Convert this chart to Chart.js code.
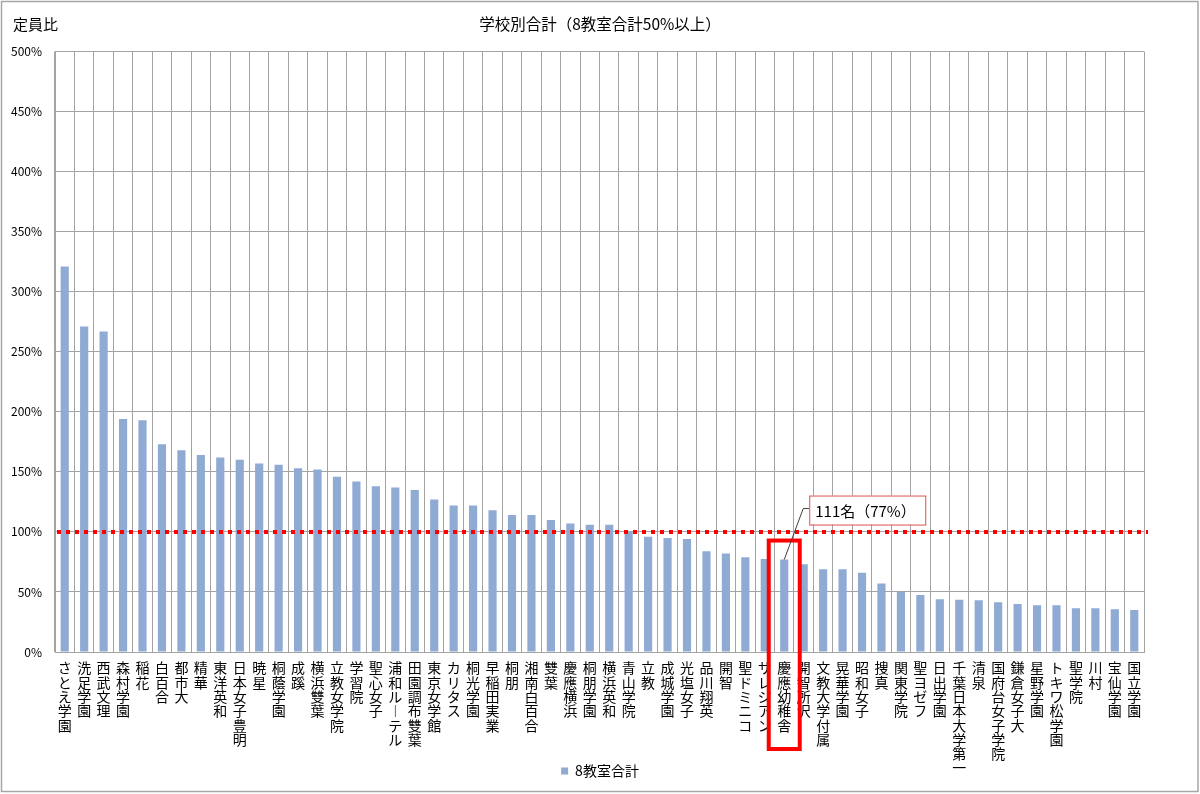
<!DOCTYPE html>
<html>
<head>
<meta charset="utf-8">
<script src="https://cdn.jsdelivr.net/npm/chart.js@4.4.1/dist/chart.umd.min.js"></script>
<style>
html,body{margin:0;padding:0;background:#fff;}
#wrap{width:1200px;height:794px;}
</style>
</head>
<body>
<div id="wrap"><canvas id="c" width="1200" height="794"></canvas></div>
<script>
// ---- data ----
const schoolNames = [
  'さとえ学園','洗足学園','西武文理','森村学園','稲花','白百合','都市大','精華','東洋英和','日本女子豊明',
  '暁星','桐蔭学園','成蹊','横浜雙葉','立教女学院','学習院','聖心女子','浦和ルーテル','田園調布雙葉','東京女学館',
  'カリタス','桐光学園','早稲田実業','桐朋','湘南白百合','雙葉','慶應横浜','桐朋学園','横浜英和','青山学院',
  '立教','成城学園','光塩女子','品川翔英','開智','聖ドミニコ','サレジアン','慶應幼稚舎','開智所沢','文教大学付属',
  '晃華学園','昭和女子','捜真','関東学院','聖ヨゼフ','日出学園','千葉日本大学第一','清泉','国府台女子学院','鎌倉女子大',
  '星野学園','トキワ松学園','聖学院','川村','宝仙学園','国立学園'
];
const ratioValues = [
  321,271,267,194,193,173,168,164,162,160,
  157,156,153,152,146,142,138,137,135,127,
  122,122,118,114,114,110,107,106,106,100,
  96,95,94,84,82,79,77.5,77,73,69,
  69,66,57,50,47.5,44,43.5,43,41.5,40,
  39,39,36.5,36.5,35.5,35
];
const seriesName = '8教室合計';
const chartTitle = '学校別合計（8教室合計50%以上）';
const yAxisTitle = '定員比';
const yTicks = [0,50,100,150,200,250,300,350,400,450,500];
const referenceLine = 100;
const highlightSchool = '慶應幼稚舎';
const highlightText = '111名（77%）';

const FONT = "'Noto Sans CJK JP', 'Noto Sans', sans-serif";
const GRID = '#a3a3a3';
const BAR = '#8faad3';

function toVertical(name){
  return name.split('').map(ch => ch === 'ー' ? '︱' : ch);
}

const overlay = {
  id: 'overlay',
  beforeDraw(chart){
    const ctx = chart.ctx;
    ctx.save();
    ctx.fillStyle = '#fff';
    ctx.fillRect(0,0,chart.width,chart.height);
    ctx.restore();
    // let the long vertical category labels run below the (shortened) axis box
    if (chart.scales.x) {
      chart.scales.x._computeLabelArea = function(){ return undefined; };
    }
  },
  afterDraw(chart){
    const {ctx, chartArea, scales} = chart;
    const xs = scales.x, ys = scales.y;
    ctx.save();
    // outer frame
    ctx.strokeStyle = '#a6a6a6';
    ctx.lineWidth = 1.5;
    ctx.strokeRect(1.5, 1.5, chart.width - 3.5, chart.height - 4);
    // axis title (top-left)
    ctx.fillStyle = '#000';
    ctx.font = '15px ' + FONT;
    ctx.textAlign = 'left';
    ctx.textBaseline = 'middle';
    ctx.fillText(yAxisTitle, 13, 24);
    // reference line at 100%
    const yRef = ys.getPixelForValue(referenceLine);
    ctx.strokeStyle = '#ff0000';
    ctx.lineWidth = 4;
    ctx.setLineDash([4,5]);
    ctx.beginPath();
    ctx.moveTo(chartArea.left + 2, yRef);
    ctx.lineTo(chartArea.right + 4, yRef);
    ctx.stroke();
    ctx.setLineDash([]);
    // highlight
    const hi = schoolNames.indexOf(highlightSchool);
    const bx = xs.getPixelForValue(hi);
    const by = ys.getPixelForValue(ratioValues[hi]);
    // rectangle around bar + label
    ctx.strokeStyle = '#ff0000';
    ctx.lineWidth = 4;
    ctx.strokeRect(bx - 15.5, by - 19, 31, chartArea.bottom + 97 - (by - 19));
    // leader line
    ctx.strokeStyle = '#404040';
    ctx.lineWidth = 1;
    ctx.beginPath();
    ctx.moveTo(bx, by);
    ctx.lineTo(bx + 19, by - 51);
    ctx.lineTo(bx + 25, by - 51);
    ctx.stroke();
    // label box
    const boxX = bx + 25, boxY = by - 64, boxW = 116, boxH = 29;
    ctx.fillStyle = '#fff';
    ctx.fillRect(boxX, boxY, boxW, boxH);
    ctx.strokeStyle = '#d9534f';
    ctx.lineWidth = 1;
    ctx.strokeRect(boxX + 0.5, boxY + 0.5, boxW, boxH);
    ctx.fillStyle = '#000';
    ctx.font = '15px ' + FONT;
    ctx.textAlign = 'left';
    ctx.textBaseline = 'middle';
    ctx.fillText(highlightText, boxX + 6, boxY + boxH/2 + 1);
    ctx.restore();
  }
};

new Chart(document.getElementById('c'), {
  type: 'bar',
  data: {
    labels: schoolNames,
    datasets: [{
      label: seriesName,
      data: ratioValues,
      backgroundColor: BAR,
      borderWidth: 0,
      barPercentage: 0.42,
      categoryPercentage: 1.0
    }]
  },
  options: {
    responsive: false,
    animation: false,
    devicePixelRatio: 1,
    layout: { padding: { top: 3, bottom: 6, left: 0, right: 0 } },
    plugins: {
      tooltip: { enabled: false },
      title: {
        display: true,
        text: chartTitle,
        color: '#000',
        font: { family: FONT, size: 15.5, weight: 'normal', lineHeight: 1.2 },
        padding: { top: 12, bottom: 18 }
      },
      legend: {
        display: true,
        position: 'bottom',
        labels: {
          color: '#000',
          font: { family: FONT, size: 14 },
          boxWidth: 7,
          boxHeight: 7,
          padding: 10
        }
      }
    },
    scales: {
      x: {
        grid: { display: true, color: GRID, lineWidth: 1, drawTicks: false, offset: true },
        border: { display: true, color: GRID, width: 1 },
        ticks: {
          autoSkip: false,
          maxRotation: 0,
          minRotation: 0,
          padding: 9,
          color: '#000',
          font: { family: FONT, size: 14, lineHeight: 1.02 },
          callback: (v, i) => toVertical(schoolNames[i])
        },
        afterFit: s => { s.height = 102; }
      },
      y: {
        min: 0,
        max: 500,
        afterBuildTicks: s => { s.ticks = yTicks.map(v => ({ value: v })); },
        grid: { color: GRID, lineWidth: 1, drawTicks: false },
        border: { display: true, color: GRID, width: 1 },
        ticks: {
          padding: 13,
          color: '#000',
          font: { family: FONT, size: 12 },
          callback: v => v + '%'
        },
        afterFit: s => { s.width = 55; }
      },
      yRight: {
        position: 'right',
        display: true,
        min: 0,
        max: 500,
        grid: { drawOnChartArea: false, drawTicks: false },
        border: { display: false },
        ticks: { display: false },
        afterFit: s => { s.width = 56; }
      }
    }
  },
  plugins: [overlay]
});
</script>
</body>
</html>
